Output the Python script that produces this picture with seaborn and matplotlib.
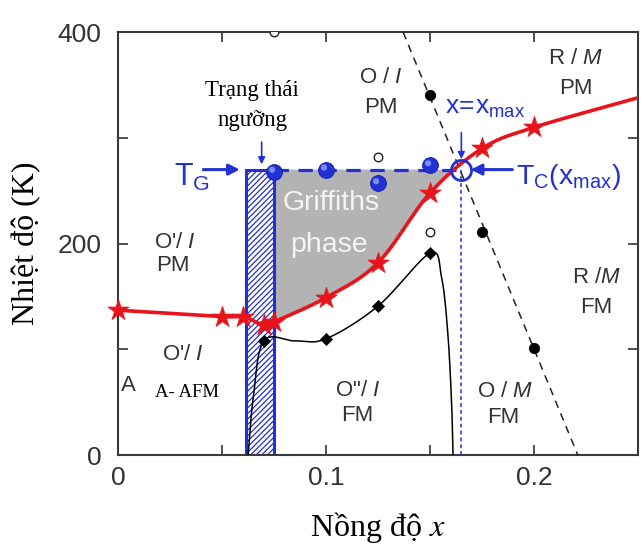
import numpy as np
import matplotlib
matplotlib.use("Agg")
import matplotlib.pyplot as plt
import matplotlib.transforms as mtransforms
from matplotlib.patches import Rectangle, Polygon
import pandas as pd
import seaborn as sns

# ---------------- data ----------------
# Curie temperature T_C (red stars) and the end of its guide line
tc_x = [0.0, 0.05, 0.06, 0.07, 0.075, 0.10, 0.125, 0.15, 0.175, 0.20]
tc_T = [137, 131, 131, 123, 126, 149, 182, 248, 290, 310]
tc_end_x = [0.25]
tc_end_T = [338]

# Griffiths temperature estimates (blue spheres)
tg_x = [0.075, 0.10, 0.125, 0.15]
tg_T = [268, 270, 257, 274]
T_G = 270
x_max = 0.165

# open circles
open_x = [0.075, 0.125, 0.15]
open_T = [400, 282, 211]

# structural transition (black dots) and its dashed boundary
struct_x = [0.15, 0.175, 0.20]
struct_T = [341, 211, 101]
struct_line_x = [0.137, 0.221]
struct_line_T = [400, 0]

# magnetic ordering (black diamonds) and its guide line
fm_x = [0.07, 0.10, 0.125, 0.15]
fm_T = [108, 110, 141, 191]
fm_line_x = [0.0625, 0.065, 0.07, 0.085, 0.10, 0.125, 0.15, 0.1555, 0.1585, 0.1603, 0.161]
fm_line_T = [0, 55, 108, 108, 110, 141, 191, 168, 115, 50, 0]

# threshold band
band_x = [0.0615, 0.075]

# axis ticks
x_ticks = [0, 0.05, 0.10, 0.15, 0.20, 0.25]
x_ticklabels = ["0", "", "0.1", "", "0.2", ""]
y_ticks = [0, 100, 200, 300, 400]
y_ticklabels = ["0", "", "200", "", "400"]

# ---------------- style ----------------
sns.set_theme(style="ticks")
plt.rcParams["font.family"] = ["Liberation Sans", "DejaVu Sans"]
plt.rcParams["mathtext.fontset"] = "custom"
plt.rcParams["mathtext.rm"] = "Liberation Sans"
plt.rcParams["mathtext.it"] = "Liberation Sans:italic"
plt.rcParams["hatch.linewidth"] = 0.9

RED = "#e8141c"
BLUE = "#2230d4"
GREY_TXT = "#333333"
SERIF = ["Liberation Serif", "DejaVu Serif"]


def catmull_rom(x, y, n=24):
    """Smooth curve through the given points (uniform Catmull-Rom)."""
    p = np.column_stack([x, y]).astype(float)
    P = np.vstack([2 * p[0] - p[1], p, 2 * p[-1] - p[-2]])
    t = np.linspace(0, 1, n, endpoint=False)[:, None]
    out = []
    for i in range(1, len(P) - 2):
        p0, p1, p2, p3 = P[i - 1], P[i], P[i + 1], P[i + 2]
        seg = 0.5 * (2 * p1 + (-p0 + p2) * t
                     + (2 * p0 - 5 * p1 + 4 * p2 - p3) * t ** 2
                     + (-p0 + 3 * p1 - 3 * p2 + p3) * t ** 3)
        out.append(seg)
    out.append(P[-2][None, :])
    c = np.vstack(out)
    return c[:, 0], c[:, 1]


fig = plt.figure(figsize=(6.42, 5.45), dpi=100)
ax = fig.add_axes([0.184, 0.165, 0.810, 0.776])
ax.set_xlim(0, 0.25)
ax.set_ylim(0, 400)

# red T_C curve
rx, rT = catmull_rom(tc_x + tc_end_x, tc_T + tc_end_T)
red_df = pd.DataFrame({"x": rx, "T": rT})

# Griffiths region: between T_C curve and T_G, right of the band
mask = (rx >= band_x[1]) & (rT <= T_G)
idx = np.where(mask)[0]
gx, gT = rx[idx], rT[idx]
i_last = idx[-1]
x_cross = np.interp(T_G, [rT[i_last], rT[i_last + 1]], [rx[i_last], rx[i_last + 1]])
poly = [(band_x[1], T_G)] + list(zip(gx, gT)) + [(x_cross, T_G)]
ax.add_patch(Polygon(poly, closed=True, facecolor="#b3b3b3", edgecolor="none", zorder=1))

# hatched threshold band
ax.add_patch(Rectangle((band_x[0], 0), band_x[1] - band_x[0], T_G,
                       facecolor="white", edgecolor=BLUE, hatch="//////",
                       lw=2.2, zorder=2))

# T_G dashed line and x_max dotted line
ax.plot([band_x[1], x_max], [T_G, T_G], color=BLUE, lw=2.3,
        dashes=(4.5, 3), zorder=3)
ax.plot([x_max, x_max], [0, T_G], color=BLUE, lw=1.1, dashes=(2.5, 2), zorder=3)

# structural boundary
ax.plot(struct_line_x, struct_line_T, color="#222222", lw=1.1, dashes=(5, 4), zorder=3)

# magnetic ordering guide line
bx, bT = catmull_rom(fm_line_x, fm_line_T)
ax.plot(bx, bT, color="black", lw=1.1, zorder=3)

# red curve
sns.lineplot(data=red_df, x="x", y="T", sort=False, color=RED, lw=2.6,
             ax=ax, zorder=4, estimator=None)

# markers
sns.scatterplot(x=tc_x, y=tc_T, marker="*", s=260, color=RED, edgecolor=RED,
                linewidth=0.5, ax=ax, zorder=5, clip_on=False)
sns.scatterplot(x=fm_x, y=fm_T, marker="D", s=38, color="black", edgecolor="black",
                ax=ax, zorder=5)
sns.scatterplot(x=struct_x, y=struct_T, marker="o", s=55, color="black",
                edgecolor="black", ax=ax, zorder=5)
sns.scatterplot(x=open_x, y=open_T, marker="o", s=38, facecolor="white",
                edgecolor="#222222", linewidth=1.0, ax=ax, zorder=5)

# blue spheres with a small highlight
sns.scatterplot(x=tg_x, y=tg_T, marker="o", s=130, color=BLUE, edgecolor="#1020a0",
                linewidth=0.6, ax=ax, zorder=6)
hl = mtransforms.offset_copy(ax.transData, fig=fig, x=-1.5, y=1.5, units="points")
ax.scatter(tg_x, tg_T, s=20, color="#7d8bff", edgecolor="none", transform=hl, zorder=7)

# T_C(x_max) open circle
ax.plot([x_max], [T_G], marker="o", ms=14.5, mfc="none", mec=BLUE, mew=2.0, zorder=7)

# ---------------- annotations ----------------
arrow_kw = dict(arrowstyle="-|>", color=BLUE, lw=2.2, mutation_scale=16,
                shrinkA=0, shrinkB=0)
ax.annotate("", xy=(0.0585, T_G), xytext=(0.041, T_G), arrowprops=arrow_kw, zorder=8)
ax.annotate("", xy=(0.1695, T_G), xytext=(0.1895, T_G), arrowprops=arrow_kw, zorder=8)
ax.annotate("", xy=(x_max, 280), xytext=(x_max, 305),
            arrowprops=dict(arrowstyle="-|>", color=BLUE, lw=1.2, mutation_scale=10,
                            shrinkA=0, shrinkB=0), zorder=8)
ax.annotate("", xy=(0.069, 275), xytext=(0.069, 296),
            arrowprops=dict(arrowstyle="-|>", color=BLUE, lw=1.2, mutation_scale=10,
                            shrinkA=0, shrinkB=0), zorder=8)

ax.text(0.0355, 263, r"$\mathrm{T}_\mathrm{G}$", color=BLUE, fontsize=22,
        ha="center", va="center", zorder=8)
ax.text(0.1915, 263, r"$\mathrm{T}_\mathrm{C}\mathrm{(x}_\mathrm{max}\mathrm{)}$",
        color=BLUE, fontsize=20.5, ha="left", va="center", zorder=8)
ax.text(0.157, 328, r"$\mathrm{x\!=\!x}_\mathrm{max}$", color=BLUE, fontsize=19,
        ha="left", va="center", zorder=8)

ax.text(0.0645, 345, "Trạng thái", family=SERIF, fontsize=16.5, color="black",
        ha="center", va="center", zorder=8)
ax.text(0.0645, 316, "ngưỡng", family=SERIF, fontsize=16.5, color="black",
        ha="center", va="center", zorder=8)

ax.text(0.1025, 238, "Griffiths", color="#f4f4f4", fontsize=20.5,
        ha="center", va="center", zorder=8)
ax.text(0.1012, 199, "phase", color="#f4f4f4", fontsize=20.5,
        ha="center", va="center", zorder=8)

region_labels = [
    (r"O / $\mathit{I}$", 0.1265, 357), ("PM", 0.1265, 329),
    (r"R / $\mathit{M}$", 0.220, 375), ("PM", 0.220, 347),
    (r"O'/ $\mathit{I}$", 0.0275, 201), ("PM", 0.0265, 179),
    (r"O'/ $\mathit{I}$", 0.031, 95),
    ("A", 0.0048, 66),
    ('O"/ $\\mathit{I}$', 0.115, 61), ("FM", 0.115, 37),
    (r"O / $\mathit{M}$", 0.186, 60), ("FM", 0.185, 36),
    (r"R /$\mathit{M}$", 0.230, 168), ("FM", 0.230, 140),
]
for txt, x, T in region_labels:
    ax.text(x, T, txt, fontsize=16, color=GREY_TXT, ha="center", va="center", zorder=8)
ax.text(0.033, 59, "A- AFM", family=SERIF, fontsize=13.5, color="black",
        ha="center", va="center", zorder=8)

# ---------------- axes ----------------
ax.set_xticks(x_ticks)
ax.set_xticklabels(x_ticklabels)
ax.set_yticks(y_ticks)
ax.set_yticklabels(y_ticklabels)
ax.tick_params(direction="in", length=7, width=1.2, color=GREY_TXT,
               labelsize=19, labelcolor=GREY_TXT, top=True, right=True)
ax.tick_params(axis="x", pad=8)
ax.tick_params(axis="y", pad=12)
for s in ax.spines.values():
    s.set_color("#3a3a3a")
    s.set_linewidth(1.5)

ax.set_xlabel("Nồng độ $x$", family=SERIF, fontsize=23, color="black",
              math_fontfamily="stix", labelpad=14)
ax.set_ylabel("Nhiệt độ (K)", family=SERIF, fontsize=23, color="black", labelpad=12)

fig.savefig("out.png", dpi=100, facecolor="white")
